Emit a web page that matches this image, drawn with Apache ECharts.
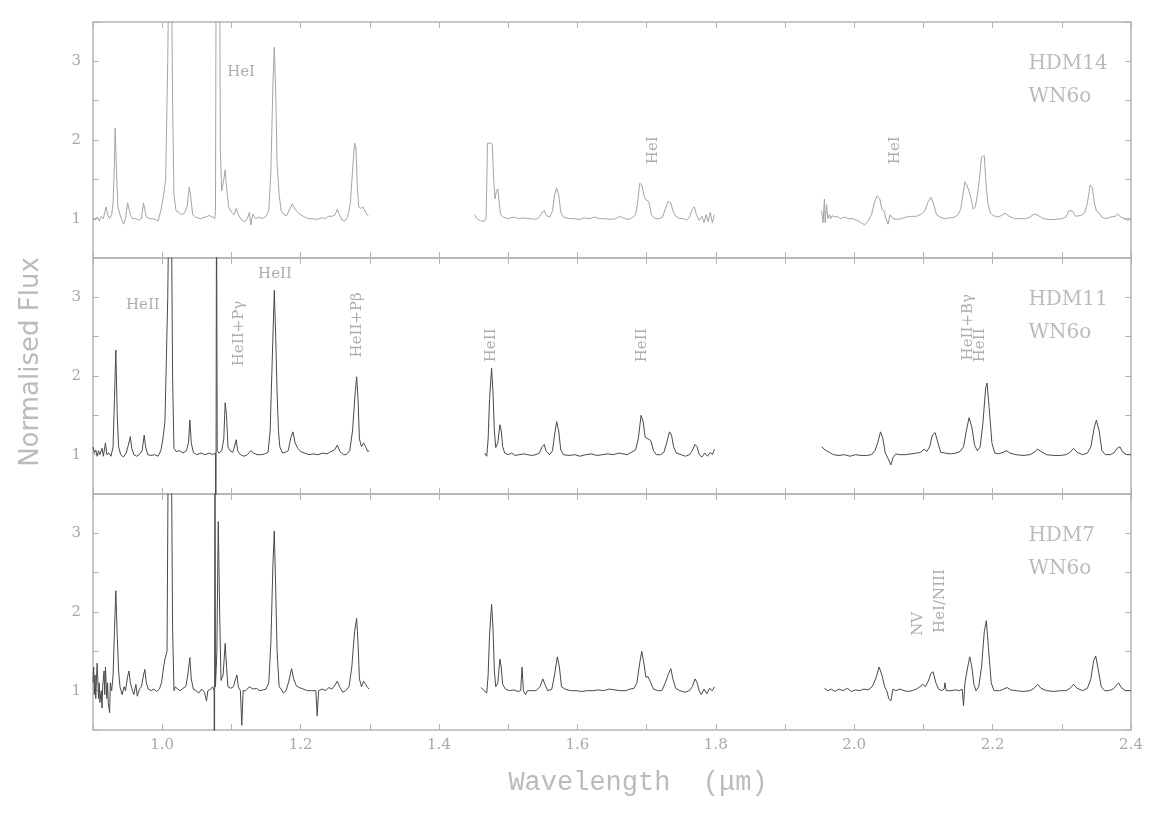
<!DOCTYPE html>
<html>
<head>
<meta charset="utf-8">
<title>HDM spectra</title>
<script src="https://cdn.jsdelivr.net/npm/echarts@6/dist/echarts.min.js"></script>
<style>
  html, body { margin: 0; padding: 0; background: #fff; }
  #chart { width: 1156px; height: 817px; }
</style>
</head>
<body>
<div id="chart"></div>
<script>
// wavelength (micron), normalised flux
const hdm14J = [[0.900,1.00],[0.903,0.98],[0.906,1.02],[0.909,0.97],[0.912,1.03],[0.915,1.0],[0.917,1.08],[0.919,1.15],[0.921,1.05],[0.924,1.0],[0.927,1.05],[0.929,1.2],[0.931,1.7],[0.932,2.15],[0.934,1.6],[0.936,1.15],[0.939,1.05],[0.942,0.98],[0.944,0.93],[0.947,1.0],[0.950,1.2],[0.952,1.22],[0.954,1.05],[0.957,1.0],[0.962,1.0],[0.966,0.98],[0.970,1.0],[0.973,1.2],[0.975,1.21],[0.977,1.02],[0.982,1.0],[0.986,1.0],[0.990,0.99],[0.994,0.97],[0.998,1.1],[1.002,1.3],[1.005,1.5],[1.008,3.0],[1.010,4.5],[1.013,4.5],[1.015,2.5],[1.017,1.3],[1.020,1.1],[1.024,1.08],[1.028,1.05],[1.032,1.07],[1.036,1.15],[1.039,1.4],[1.041,1.3],[1.044,1.05],[1.048,1.02],[1.055,1.0],[1.062,1.02],[1.068,1.04],[1.073,1.02],[1.076,1.0],[1.077,1.1],[1.078,4.5],[1.083,4.5],[1.084,1.9],[1.086,1.35],[1.089,1.5],[1.091,1.62],[1.093,1.4],[1.096,1.15],[1.100,1.08],[1.104,1.05],[1.107,1.13],[1.110,1.05],[1.115,0.98],[1.119,0.96],[1.123,1.0],[1.126,1.08],[1.128,0.92],[1.131,1.06],[1.135,1.0],[1.140,1.02],[1.145,1.0],[1.150,1.03],[1.154,1.1],[1.157,1.6],[1.160,2.7],[1.162,3.18],[1.164,2.6],[1.166,1.7],[1.169,1.3],[1.172,1.1],[1.176,1.05],[1.180,1.04],[1.184,1.12],[1.188,1.19],[1.192,1.12],[1.196,1.08],[1.200,1.05],[1.206,1.02],[1.212,1.0],[1.218,1.0],[1.224,0.99],[1.230,1.01],[1.236,1.0],[1.240,1.03],[1.245,1.03],[1.250,1.05],[1.253,1.12],[1.256,1.05],[1.260,0.98],[1.264,0.97],[1.268,1.02],[1.272,1.2],[1.275,1.6],[1.278,1.96],[1.280,1.9],[1.282,1.4],[1.284,1.15],[1.287,1.13],[1.290,1.15],[1.293,1.1],[1.296,1.05],[1.298,1.04]];
const hdm14H = [[1.451,1.05],[1.455,1.0],[1.460,0.97],[1.466,0.97],[1.468,1.0],[1.469,1.4],[1.470,1.96],[1.474,1.96],[1.477,1.95],[1.479,1.5],[1.481,1.25],[1.483,1.35],[1.485,1.38],[1.487,1.2],[1.489,1.05],[1.493,1.02],[1.500,1.0],[1.508,1.02],[1.515,1.0],[1.522,1.01],[1.528,1.0],[1.535,1.0],[1.540,0.99],[1.545,1.02],[1.549,1.08],[1.552,1.1],[1.555,1.04],[1.560,1.02],[1.564,1.1],[1.567,1.3],[1.570,1.39],[1.573,1.3],[1.576,1.08],[1.580,1.02],[1.588,1.0],[1.595,1.0],[1.603,0.99],[1.610,1.01],[1.618,1.0],[1.625,1.02],[1.632,1.0],[1.640,1.0],[1.648,0.99],[1.655,1.0],[1.662,1.03],[1.668,1.0],[1.675,0.99],[1.680,1.02],[1.684,1.05],[1.687,1.2],[1.690,1.45],[1.693,1.43],[1.696,1.3],[1.699,1.24],[1.703,1.22],[1.707,1.05],[1.712,1.0],[1.718,1.0],[1.723,1.02],[1.727,1.12],[1.731,1.22],[1.735,1.2],[1.738,1.1],[1.742,1.03],[1.748,1.0],[1.753,1.0],[1.758,0.98],[1.762,1.02],[1.766,1.12],[1.769,1.15],[1.772,1.05],[1.776,0.98],[1.780,1.03],[1.783,0.95],[1.786,1.05],[1.789,0.96],[1.792,1.08],[1.795,0.95],[1.798,1.05]];
const hdm14K = [[1.953,1.1],[1.955,0.95],[1.957,1.25],[1.958,0.95],[1.960,1.18],[1.962,1.0],[1.964,1.05],[1.966,1.0],[1.968,1.04],[1.971,1.02],[1.975,1.03],[1.980,1.0],[1.986,1.02],[1.992,1.0],[1.998,1.0],[2.004,0.98],[2.010,0.95],[2.015,0.92],[2.020,0.97],[2.025,1.05],[2.029,1.2],[2.033,1.29],[2.037,1.25],[2.040,1.12],[2.043,1.1],[2.046,1.0],[2.049,0.93],[2.052,1.05],[2.056,1.0],[2.062,0.99],[2.068,1.0],[2.075,1.02],[2.082,1.03],[2.090,1.03],[2.097,1.06],[2.102,1.1],[2.107,1.22],[2.111,1.27],[2.115,1.18],[2.119,1.05],[2.124,1.02],[2.130,1.0],[2.138,1.01],[2.145,1.02],[2.150,1.05],[2.154,1.12],[2.157,1.3],[2.160,1.47],[2.163,1.42],[2.166,1.35],[2.169,1.25],[2.172,1.12],[2.175,1.15],[2.178,1.3],[2.181,1.5],[2.184,1.78],[2.188,1.8],[2.190,1.5],[2.193,1.2],[2.197,1.07],[2.201,1.04],[2.207,1.02],[2.213,1.04],[2.218,1.07],[2.224,1.03],[2.232,1.0],[2.240,1.0],[2.248,1.0],[2.254,1.02],[2.260,1.06],[2.266,1.04],[2.273,1.0],[2.282,0.99],[2.292,0.99],[2.300,1.0],[2.306,1.02],[2.310,1.1],[2.315,1.1],[2.320,1.03],[2.327,1.04],[2.333,1.07],[2.337,1.2],[2.341,1.43],[2.344,1.4],[2.347,1.2],[2.350,1.1],[2.354,1.07],[2.358,1.02],[2.364,1.0],[2.370,1.02],[2.377,1.03],[2.381,1.06],[2.385,1.02],[2.390,1.0],[2.395,0.98],[2.400,0.99]];

const hdm11J = [[0.900,1.1],[0.902,1.02],[0.904,1.06],[0.906,0.98],[0.908,1.05],[0.910,1.0],[0.913,1.08],[0.915,0.98],[0.918,1.15],[0.920,1.0],[0.923,1.02],[0.926,0.98],[0.929,1.1],[0.931,1.7],[0.933,2.33],[0.935,1.5],[0.937,1.1],[0.940,1.0],[0.944,0.97],[0.948,1.02],[0.951,1.12],[0.954,1.23],[0.956,1.08],[0.959,1.0],[0.963,0.98],[0.967,1.0],[0.971,1.05],[0.974,1.25],[0.976,1.1],[0.979,1.0],[0.984,0.99],[0.989,1.0],[0.994,0.98],[0.998,1.05],[1.001,1.2],[1.004,1.42],[1.006,1.43],[1.008,3.0],[1.010,4.5],[1.013,4.5],[1.015,2.0],[1.017,1.08],[1.020,1.04],[1.025,1.05],[1.030,1.02],[1.035,1.05],[1.038,1.15],[1.040,1.44],[1.042,1.15],[1.045,1.03],[1.050,1.0],[1.056,1.02],[1.062,1.0],[1.068,1.02],[1.073,1.0],[1.077,1.02],[1.0775,-1.0],[1.0785,4.5],[1.0795,1.05],[1.082,1.02],[1.086,1.05],[1.089,1.2],[1.091,1.66],[1.093,1.5],[1.095,1.1],[1.098,1.05],[1.102,1.03],[1.105,1.12],[1.107,1.19],[1.109,1.05],[1.113,1.0],[1.118,0.98],[1.123,1.0],[1.128,1.05],[1.132,1.02],[1.137,1.0],[1.143,1.0],[1.148,1.01],[1.153,1.03],[1.156,1.3],[1.159,2.2],[1.162,3.09],[1.164,2.5],[1.166,1.8],[1.168,1.3],[1.170,1.1],[1.174,1.02],[1.178,1.03],[1.182,1.05],[1.186,1.22],[1.189,1.29],[1.192,1.15],[1.196,1.08],[1.200,1.04],[1.206,1.02],[1.212,1.0],[1.218,1.01],[1.225,1.0],[1.232,1.02],[1.238,1.01],[1.244,1.04],[1.249,1.06],[1.253,1.12],[1.257,1.04],[1.262,1.0],[1.266,1.0],[1.271,1.05],[1.275,1.3],[1.279,1.8],[1.281,1.99],[1.283,1.7],[1.285,1.2],[1.288,1.1],[1.291,1.15],[1.294,1.1],[1.297,1.04],[1.299,1.05]];
const hdm11H = [[1.466,1.02],[1.469,0.98],[1.471,1.2],[1.473,1.7],[1.476,2.1],[1.478,1.8],[1.480,1.3],[1.482,1.09],[1.485,1.15],[1.488,1.38],[1.490,1.3],[1.492,1.1],[1.495,1.02],[1.500,1.0],[1.505,1.02],[1.510,0.99],[1.516,1.0],[1.522,1.01],[1.528,1.0],[1.534,0.99],[1.540,1.0],[1.545,1.02],[1.549,1.1],[1.552,1.13],[1.555,1.04],[1.560,1.0],[1.564,1.05],[1.567,1.25],[1.570,1.42],[1.573,1.3],[1.576,1.06],[1.580,1.0],[1.588,0.99],[1.596,1.0],[1.604,0.98],[1.612,1.0],[1.620,1.01],[1.628,0.99],[1.636,1.0],[1.644,1.01],[1.652,1.0],[1.660,1.02],[1.666,1.01],[1.672,1.0],[1.678,1.03],[1.684,1.06],[1.688,1.2],[1.692,1.5],[1.695,1.42],[1.698,1.22],[1.702,1.2],[1.706,1.18],[1.710,1.05],[1.714,1.0],[1.720,1.0],[1.725,1.03],[1.729,1.15],[1.733,1.29],[1.736,1.25],[1.739,1.1],[1.743,1.02],[1.750,1.0],[1.756,0.98],[1.762,1.0],[1.766,1.05],[1.770,1.13],[1.773,1.1],[1.776,1.0],[1.780,0.97],[1.784,1.02],[1.788,0.98],[1.792,1.03],[1.795,1.0],[1.798,1.07]];
const hdm11K = [[1.953,1.1],[1.958,1.06],[1.964,1.03],[1.970,1.0],[1.978,0.99],[1.986,1.0],[1.994,0.98],[2.002,1.0],[2.010,0.99],[2.018,0.99],[2.025,1.0],[2.030,1.05],[2.034,1.15],[2.038,1.29],[2.041,1.22],[2.045,1.02],[2.049,0.95],[2.053,0.87],[2.056,0.96],[2.060,1.01],[2.066,1.0],[2.074,1.0],[2.082,1.01],[2.090,1.02],[2.096,1.03],[2.101,1.07],[2.105,1.04],[2.109,1.1],[2.113,1.25],[2.117,1.28],[2.121,1.15],[2.125,1.03],[2.131,1.02],[2.139,1.01],[2.147,1.02],[2.153,1.04],[2.158,1.1],[2.162,1.3],[2.166,1.47],[2.170,1.35],[2.174,1.12],[2.178,1.05],[2.182,1.1],[2.186,1.4],[2.190,1.85],[2.192,1.91],[2.195,1.6],[2.199,1.15],[2.203,1.02],[2.209,1.01],[2.215,1.03],[2.220,1.05],[2.225,1.02],[2.234,1.0],[2.244,0.99],[2.254,1.0],[2.260,1.03],[2.265,1.07],[2.270,1.04],[2.278,1.0],[2.288,0.99],[2.298,0.99],[2.306,1.0],[2.312,1.03],[2.317,1.08],[2.322,1.03],[2.330,1.0],[2.337,1.02],[2.342,1.1],[2.347,1.35],[2.350,1.44],[2.354,1.3],[2.358,1.05],[2.363,1.0],[2.370,1.0],[2.375,1.02],[2.380,1.08],[2.384,1.1],[2.388,1.03],[2.394,1.0],[2.400,1.0]];

const hdm7J = [[0.900,1.1],[0.901,1.3],[0.902,0.95],[0.903,1.2],[0.904,0.9],[0.905,1.15],[0.906,1.35],[0.908,0.9],[0.909,1.1],[0.910,0.85],[0.912,1.0],[0.913,0.78],[0.914,1.05],[0.916,1.25],[0.917,0.95],[0.918,1.3],[0.920,0.9],[0.921,1.1],[0.922,0.85],[0.924,0.72],[0.925,1.1],[0.927,1.0],[0.929,1.2],[0.931,1.75],[0.933,2.27],[0.935,1.7],[0.937,1.25],[0.939,1.05],[0.942,0.95],[0.945,1.05],[0.947,1.0],[0.950,1.18],[0.952,1.25],[0.954,1.1],[0.957,1.0],[0.959,0.95],[0.962,1.08],[0.964,0.93],[0.967,1.02],[0.970,1.05],[0.973,1.2],[0.975,1.27],[0.977,1.1],[0.980,1.02],[0.984,1.0],[0.988,1.02],[0.992,0.99],[0.996,1.02],[0.999,1.1],[1.002,1.3],[1.004,1.4],[1.007,1.5],[1.009,4.5],[1.013,4.5],[1.015,1.8],[1.017,1.0],[1.019,1.05],[1.022,1.02],[1.026,1.0],[1.030,1.03],[1.034,1.05],[1.037,1.2],[1.040,1.42],[1.042,1.15],[1.045,1.02],[1.049,1.0],[1.053,0.97],[1.057,1.02],[1.061,0.98],[1.064,0.87],[1.066,1.0],[1.070,1.02],[1.073,1.05],[1.075,1.0],[1.0755,-1.0],[1.0762,4.5],[1.077,1.05],[1.079,1.5],[1.081,3.15],[1.083,2.0],[1.085,1.13],[1.088,1.2],[1.091,1.6],[1.093,1.3],[1.095,1.05],[1.099,1.03],[1.103,1.05],[1.106,1.15],[1.108,1.2],[1.110,1.05],[1.113,1.0],[1.115,0.56],[1.117,1.0],[1.121,1.0],[1.126,1.05],[1.131,1.02],[1.136,1.03],[1.141,1.0],[1.146,1.01],[1.150,1.02],[1.154,1.1],[1.157,1.6],[1.160,2.6],[1.162,3.03],[1.164,2.3],[1.166,1.5],[1.169,1.05],[1.172,1.02],[1.175,0.97],[1.179,1.0],[1.183,1.12],[1.187,1.28],[1.190,1.15],[1.194,1.06],[1.198,1.04],[1.204,1.02],[1.210,1.0],[1.216,1.0],[1.222,1.0],[1.224,0.68],[1.226,1.0],[1.231,1.02],[1.236,1.0],[1.241,1.04],[1.245,1.02],[1.249,1.06],[1.253,1.12],[1.257,1.04],[1.261,0.98],[1.265,1.0],[1.270,1.05],[1.274,1.3],[1.278,1.75],[1.281,1.92],[1.283,1.6],[1.285,1.15],[1.288,1.05],[1.291,1.12],[1.294,1.08],[1.297,1.04],[1.299,1.02]];
const hdm7H = [[1.461,1.04],[1.465,1.0],[1.469,0.97],[1.471,1.2],[1.473,1.7],[1.476,2.1],[1.478,1.8],[1.480,1.25],[1.482,1.05],[1.485,1.1],[1.488,1.4],[1.490,1.3],[1.492,1.08],[1.496,1.02],[1.502,1.0],[1.508,1.01],[1.514,0.99],[1.518,1.0],[1.520,1.3],[1.522,1.0],[1.525,0.95],[1.528,1.0],[1.534,1.0],[1.540,1.0],[1.546,1.05],[1.550,1.15],[1.553,1.08],[1.557,1.0],[1.563,1.02],[1.567,1.2],[1.571,1.43],[1.574,1.3],[1.577,1.05],[1.582,1.02],[1.590,1.0],[1.598,1.0],[1.606,0.99],[1.614,1.0],[1.622,1.0],[1.630,1.01],[1.638,1.0],[1.646,1.02],[1.654,1.01],[1.662,1.0],[1.670,1.0],[1.676,1.02],[1.682,1.03],[1.686,1.1],[1.690,1.35],[1.693,1.5],[1.696,1.35],[1.699,1.17],[1.702,1.18],[1.706,1.1],[1.710,1.02],[1.716,1.0],[1.722,1.0],[1.727,1.1],[1.731,1.2],[1.735,1.28],[1.738,1.15],[1.742,1.03],[1.748,1.0],[1.755,0.98],[1.762,1.0],[1.766,1.05],[1.770,1.15],[1.773,1.1],[1.776,1.0],[1.779,0.95],[1.783,1.02],[1.787,0.96],[1.791,1.03],[1.795,1.0],[1.798,1.05]];
const hdm7K = [[1.957,1.03],[1.962,1.0],[1.967,1.02],[1.972,0.99],[1.978,1.02],[1.984,1.0],[1.990,1.03],[1.996,0.99],[2.002,1.01],[2.008,1.0],[2.014,1.02],[2.020,1.01],[2.026,1.05],[2.031,1.15],[2.036,1.3],[2.040,1.2],[2.044,1.05],[2.047,1.0],[2.050,0.9],[2.053,0.87],[2.056,1.02],[2.060,1.0],[2.066,1.02],[2.072,1.0],[2.078,0.99],[2.084,1.0],[2.090,1.02],[2.095,1.05],[2.099,1.08],[2.103,1.05],[2.107,1.12],[2.111,1.22],[2.114,1.24],[2.118,1.1],[2.122,1.02],[2.126,1.0],[2.130,1.02],[2.131,1.1],[2.133,1.0],[2.140,1.0],[2.146,1.01],[2.152,1.0],[2.156,1.02],[2.158,0.81],[2.160,1.1],[2.164,1.3],[2.167,1.43],[2.170,1.3],[2.173,1.08],[2.176,1.0],[2.180,1.05],[2.184,1.3],[2.188,1.75],[2.191,1.89],[2.194,1.55],[2.198,1.1],[2.202,1.0],[2.210,1.0],[2.216,1.02],[2.221,1.04],[2.226,1.01],[2.234,1.0],[2.244,0.99],[2.254,1.0],[2.260,1.03],[2.265,1.08],[2.270,1.03],[2.278,1.0],[2.288,0.99],[2.298,1.0],[2.306,1.0],[2.312,1.03],[2.317,1.08],[2.322,1.03],[2.330,1.0],[2.337,1.03],[2.342,1.15],[2.346,1.38],[2.349,1.44],[2.353,1.25],[2.357,1.05],[2.362,1.0],[2.368,1.0],[2.374,1.02],[2.379,1.07],[2.382,1.1],[2.386,1.04],[2.392,1.0],[2.400,1.0]];

// line identifications: [wavelength, flux, text, rotated]
const notes14 = [[1.114,2.86,'HeI',false],[1.709,1.87,'HeI',true],[2.059,1.87,'HeI',true]];
const notes11 = [[0.972,2.90,'HeII',false],[1.163,3.29,'HeII',false],[1.111,2.54,'HeII+Pγ',true],[1.282,2.65,'HeII+Pβ',true],[1.476,2.39,'HeII',true],[1.693,2.39,'HeII',true],[2.164,2.62,'HeII+Bγ',true],[2.182,2.39,'HeII',true]];
const notes7 = [[2.092,1.85,'NV',true],[2.124,2.14,'HeI/NIII',true]];

const starNames = ['HDM14', 'HDM11', 'HDM7'];
const starTypes = ['WN6o', 'WN6o', 'WN6o'];

const panels = [
  { segs: [hdm14J, hdm14H, hdm14K], color: '#a4a4a4', notes: notes14 },
  { segs: [hdm11J, hdm11H, hdm11K], color: '#4a4a4a', notes: notes11 },
  { segs: [hdm7J, hdm7H, hdm7K], color: '#4a4a4a', notes: notes7 }
];

const axisGray = '#b4b4b4';
const textGray = '#a8a8a8';
const serif = 'DejaVu Serif';
const tops = [22, 258, 494];

const chart = echarts.init(document.getElementById('chart'));

const grid = [], xAxis = [], yAxis = [], series = [];

panels.forEach(function (p, i) {
  grid.push({ left: 93, right: 25, top: tops[i], height: 236 });

  const xBase = {
    gridIndex: i, type: 'value', min: 0.9, max: 2.4, interval: 0.1,
    axisLine: { show: true, lineStyle: { color: axisGray, width: 1.5 } },
    axisTick: { show: true, inside: true, length: 6, lineStyle: { color: axisGray } },
    splitLine: { show: false }
  };
  xAxis.push(Object.assign({}, xBase, {
    position: 'bottom',
    axisLabel: {
      show: i === 2, color: textGray, fontFamily: serif, fontSize: 15, margin: 8,
      formatter: function (v) {
        const k = Math.round(v * 10);
        return k % 2 === 0 ? (k / 10).toFixed(1) : '';
      }
    }
  }));
  xAxis.push(Object.assign({}, xBase, { position: 'top', axisLabel: { show: false } }));

  const yBase = {
    gridIndex: i, type: 'value', min: 0.5, max: 3.5, interval: 0.5,
    axisLine: { show: true, lineStyle: { color: axisGray, width: 1.5 } },
    axisTick: { show: true, inside: true, length: 6, lineStyle: { color: axisGray } },
    splitLine: { show: false }
  };
  yAxis.push(Object.assign({}, yBase, {
    position: 'left',
    axisLabel: {
      color: textGray, fontFamily: serif, fontSize: 15, margin: 12,
      formatter: function (v) { return Number.isInteger(v) ? String(v) : ''; }
    }
  }));
  yAxis.push(Object.assign({}, yBase, { position: 'right', axisLabel: { show: false } }));

  p.segs.forEach(function (seg) {
    series.push({
      type: 'line', xAxisIndex: 2 * i, yAxisIndex: 2 * i,
      data: seg, showSymbol: false, clip: true, silent: true,
      lineStyle: { color: p.color, width: 1 }
    });
  });

  const noteData = p.notes.map(function (n) {
    return {
      name: n[2], value: [n[0], n[1]],
      label: { rotate: n[3] ? 90 : 0 }
    };
  });
  series.push({
    type: 'scatter', xAxisIndex: 2 * i, yAxisIndex: 2 * i,
    symbolSize: 1, itemStyle: { color: 'rgba(0,0,0,0)' }, silent: true,
    data: noteData,
    label: {
      show: true, position: 'inside', formatter: '{b}',
      color: '#999', fontFamily: serif, fontSize: 15
    }
  });

  series.push({
    type: 'scatter', xAxisIndex: 2 * i, yAxisIndex: 2 * i,
    symbolSize: 1, itemStyle: { color: 'rgba(0,0,0,0)' }, silent: true,
    data: [
      { name: starNames[i], value: [2.251, 2.97] },
      { name: starTypes[i], value: [2.251, 2.55] }
    ],
    label: {
      show: true, position: 'right', distance: 0, formatter: '{b}',
      color: '#aaa', fontFamily: serif, fontSize: 20
    }
  });
});

chart.setOption({
  animation: false,
  backgroundColor: '#fff',
  grid: grid,
  xAxis: xAxis,
  yAxis: yAxis,
  series: series,
  graphic: [
    {
      type: 'text', x: 31, y: 362, rotation: Math.PI / 2,
      style: {
        text: 'Normalised Flux', font: '26px "DejaVu Sans"', fill: '#bbb',
        align: 'center', verticalAlign: 'middle'
      }
    },
    {
      type: 'text', x: 638, y: 783,
      style: {
        text: 'Wavelength  (μm)', font: '27px "Liberation Mono"', fill: '#bbb',
        align: 'center', verticalAlign: 'middle'
      }
    }
  ]
});
</script>
</body>
</html>
